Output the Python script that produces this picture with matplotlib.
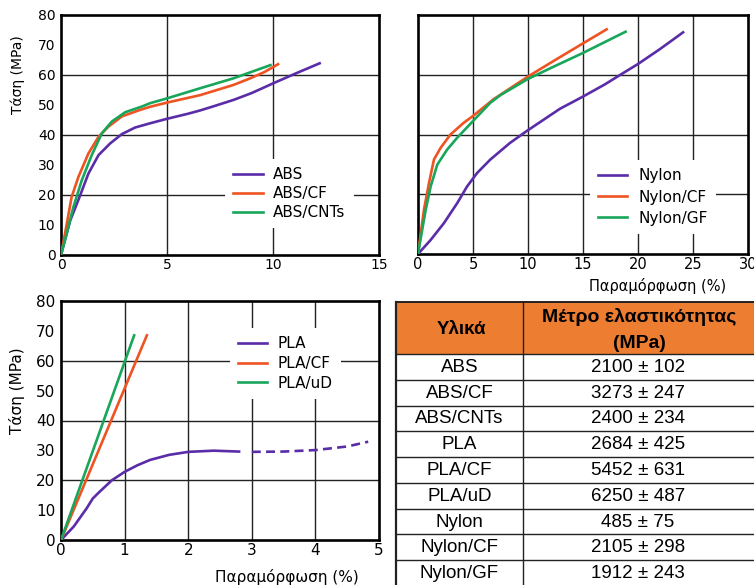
import matplotlib
matplotlib.use("Agg")
import matplotlib.pyplot as plt
from matplotlib.patches import Rectangle

plt.rcParams["font.family"] = ["DejaVu Sans"]

PURPLE = "#5a2ca8"
ORANGE = "#ee5322"
GREEN = "#18a65a"

# --- ABS (strain %, stress MPa) ---
abs_x = [0, 0.43, 0.9, 1.29, 1.77, 2.32, 2.87, 3.5, 4.2, 5.0, 6.0, 6.57, 7.3, 8.14, 9.0, 10.0, 11.0, 12.2]
abs_y = [0, 11.4, 19.8, 27.1, 33.3, 37.2, 40.3, 42.5, 43.9, 45.4, 47.1, 48.2, 49.8, 51.7, 54.0, 57.2, 60.3, 63.9]
abscf_x = [0, 0.25, 0.5, 0.82, 1.29, 1.77, 2.24, 2.87, 3.66, 4.2, 5.0, 6.57, 8.14, 8.93, 9.6, 10.24]
abscf_y = [0, 9.5, 19.3, 26.0, 33.8, 39.4, 42.8, 46.2, 48.2, 49.4, 50.8, 53.3, 56.7, 58.9, 61.0, 63.6]
abscnt_x = [0, 0.3, 0.58, 0.98, 1.45, 1.93, 2.4, 3.03, 3.82, 4.2, 5.0, 6.57, 8.14, 9.88]
abscnt_y = [0, 8.0, 15.9, 24.9, 33.3, 40.6, 44.5, 47.6, 49.5, 50.6, 52.2, 55.6, 58.9, 63.3]

# --- Nylon ---
nyl_x = [0, 1.15, 2.35, 3.56, 4.46, 5.37, 6.57, 8.37, 9.9, 12.9, 15.0, 17.0, 18.4, 20.0, 22.0, 24.1]
nyl_y = [0, 4.7, 10.3, 17.0, 22.6, 27.1, 31.6, 37.2, 41.2, 48.6, 52.7, 56.8, 60.0, 63.6, 68.6, 74.2]
nylcf_x = [0, 0.54, 1.0, 1.45, 2.05, 2.95, 4.15, 5.0, 6.87, 10.0, 12.5, 15.0, 17.15]
nylcf_y = [0, 14.8, 23.8, 31.6, 35.5, 40.0, 43.9, 46.2, 51.8, 59.4, 65.0, 70.5, 75.2]
nylgf_x = [0, 0.7, 1.15, 1.75, 2.66, 3.56, 5.0, 6.57, 7.5, 10.0, 12.5, 15.0, 18.87]
nylgf_y = [0, 14.8, 22.6, 29.9, 35.0, 38.9, 44.5, 50.6, 53.2, 58.6, 63.0, 67.3, 74.4]

# --- PLA ---
pla_x = [0, 0.2, 0.4, 0.5, 0.6, 0.8, 1.0, 1.2, 1.4, 1.7, 2.0, 2.4, 2.8]
pla_y = [0, 4.5, 10.5, 13.9, 16.0, 20.0, 22.8, 25.0, 26.8, 28.5, 29.5, 29.9, 29.6]
pla_dash_x = [3.0, 3.5, 4.0, 4.5, 4.83]
pla_dash_y = [29.5, 29.6, 30.1, 31.3, 32.9]
placf_x = [0, 1.35]
placf_y = [0, 68.5]
plaud_x = [0, 1.15]
plaud_y = [0, 68.5]

# --- table ---
materials = ["ABS", "ABS/CF", "ABS/CNTs", "PLA", "PLA/CF", "PLA/uD", "Nylon", "Nylon/CF", "Nylon/GF"]
modulus = [2100, 3273, 2400, 2684, 5452, 6250, 485, 2105, 1912]
modulus_sd = [102, 247, 234, 425, 631, 487, 75, 298, 243]

W, H = 754, 585
fig = plt.figure(figsize=(W / 100, H / 100), dpi=100)


def px_axes(l, t, r, b):
    return fig.add_axes([l / W, (H - b) / H, (r - l) / W, (b - t) / H])


def style(ax, xmax, xstep, ygrid, xgrid, fs, ylabels=True):
    ax.set_xlim(0, xmax)
    ax.set_ylim(0, 80)
    ax.set_xticks(range(0, xmax + 1, xstep))
    ax.set_yticks(range(0, 81, 10))
    if not ylabels:
        ax.set_yticklabels([])
    ax.tick_params(length=0, labelsize=fs, pad=2)
    ax.tick_params(axis="y", pad=4)
    for s in ax.spines.values():
        s.set_linewidth(1.9)
    for g in ygrid:
        ax.axhline(g, color="#222222", lw=1.0, zorder=1)
    for g in xgrid:
        ax.axvline(g, color="#222222", lw=1.0, zorder=1)


def leg(ax, x, y, fs, spacing):
    lg = ax.legend(loc="upper left", bbox_to_anchor=(x, y), borderaxespad=0, fontsize=fs,
                   frameon=True, fancybox=False, edgecolor="none", facecolor="white", framealpha=1,
                   handlelength=1.9, handletextpad=0.7, labelspacing=spacing, borderpad=0.55)
    lg.set_zorder(5)


LW = 1.9

# top-left: ABS
ax1 = px_axes(61, 15, 379, 255)
style(ax1, 15, 5, [20, 40, 60], [5, 10], 10)
ax1.plot(abs_x, abs_y, color=PURPLE, lw=LW, label="ABS", zorder=3)
ax1.plot(abscf_x, abscf_y, color=ORANGE, lw=LW, label="ABS/CF", zorder=3)
ax1.plot(abscnt_x, abscnt_y, color=GREEN, lw=LW, label="ABS/CNTs", zorder=3)
ax1.set_ylabel("Τάση (MPa)", fontsize=10, va="center")
ax1.yaxis.set_label_coords(-0.135, 0.75)
leg(ax1, 0.516, 0.40, 11, 0.25)

# top-right: Nylon
ax2 = px_axes(418, 15, 748, 254)
style(ax2, 30, 5, [20, 40, 60], [5, 10, 15, 20, 25], 10.5, ylabels=False)
ax2.plot(nyl_x, nyl_y, color=PURPLE, lw=LW, label="Nylon", zorder=3)
ax2.plot(nylcf_x, nylcf_y, color=ORANGE, lw=LW, label="Nylon/CF", zorder=3)
ax2.plot(nylgf_x, nylgf_y, color=GREEN, lw=LW, label="Nylon/GF", zorder=3)
ax2.set_xlabel("Παραμόρφωση (%)", fontsize=10.5, va="center")
ax2.xaxis.set_label_coords(0.727, -0.134)
leg(ax2, 0.521, 0.393, 11, 0.4)

# bottom-left: PLA
ax3 = px_axes(61, 301, 379, 540)
style(ax3, 5, 1, [20, 40, 60], [1, 2, 3, 4], 11)
ax3.plot(pla_x, pla_y, color=PURPLE, lw=LW, label="PLA", zorder=3)
ax3.plot(pla_dash_x, pla_dash_y, color=PURPLE, lw=LW, ls=(0, (3.4, 2.0)), zorder=3)
ax3.plot(placf_x, placf_y, color=ORANGE, lw=LW, label="PLA/CF", zorder=3)
ax3.plot(plaud_x, plaud_y, color=GREEN, lw=LW, label="PLA/uD", zorder=3)
ax3.set_ylabel("Τάση (MPa)", fontsize=11, va="center")
ax3.yaxis.set_label_coords(-0.137, 0.623)
ax3.set_xlabel("Παραμόρφωση (%)", fontsize=11, va="center")
ax3.xaxis.set_label_coords(0.711, -0.155)
leg(ax3, 0.531, 0.887, 11, 0.3)

# table (pixel coordinates overlay)
axt = fig.add_axes([0, 0, 1, 1])
axt.set_xlim(0, W)
axt.set_ylim(H, 0)
axt.set_axis_off()
axt.patch.set_visible(False)

x0, x1, x2 = 396, 523, 757
top, hbot = 302, 354
rh = (586 - hbot) / len(materials)
tfont = ["Liberation Sans", "DejaVu Sans"]

axt.add_patch(Rectangle((x0, top), x2 - x0, hbot - top, facecolor="#ed7d31", edgecolor="none"))
axt.text((x0 + x1) / 2 + 2, (top + hbot) / 2 + 1, "Υλικά", ha="center", va="center",
         fontsize=13.5, fontweight="bold", family=tfont)
axt.text((x1 + x2) / 2 - 1, 317, "Μέτρο ελαστικότητας", ha="center",
         va="center", fontsize=14, fontweight="bold", family=tfont)
axt.text((x1 + x2) / 2 - 1, 343, "(MPa)", ha="center",
         va="center", fontsize=14, fontweight="bold", family=tfont)

for i, (m, e, sd) in enumerate(zip(materials, modulus, modulus_sd)):
    yc = hbot + rh * (i + 0.5)
    axt.text((x0 + x1) / 2, yc + 0.5, m, ha="center", va="center", fontsize=13.5, family=tfont)
    axt.text((x1 + x2) / 2 - 2, yc + 0.5, f"{e} ± {sd}", ha="center", va="center",
             fontsize=13.5, family=tfont)
    axt.plot([x0, x2], [hbot + rh * i] * 2, color="#222222", lw=1.0)

axt.plot([x0, x2], [top, top], color="#222222", lw=1.4)
axt.plot([x0, x0], [top, 586], color="#222222", lw=1.6)
axt.plot([x1, x1], [top, 586], color="#222222", lw=1.0)

fig.savefig("out.png", dpi=100)
